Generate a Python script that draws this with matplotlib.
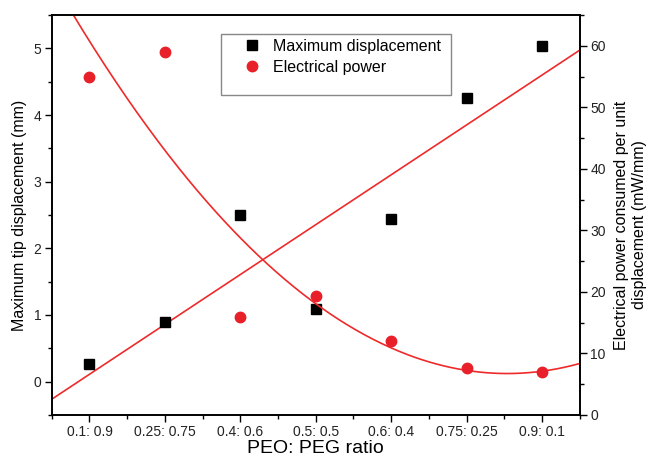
import matplotlib
matplotlib.use("Agg")
import matplotlib.pyplot as plt
import numpy as np
from matplotlib.patches import Rectangle
from matplotlib.ticker import MultipleLocator

plt.rcParams["font.family"] = ["Liberation Sans", "DejaVu Sans"]

ratios = ["0.1: 0.9", "0.25: 0.75", "0.4: 0.6", "0.5: 0.5", "0.6: 0.4", "0.75: 0.25", "0.9: 0.1"]
max_disp = [0.27, 0.90, 2.50, 1.085, 2.44, 4.25, 5.04]          # mm
elec_power = [54.9, 59.0, 16.0, 19.3, 12.1, 7.6, 7.0]          # mW/mm

RED = "#e8202a"
LINE_RED = "#ee2a2a"

x = np.arange(1, len(ratios) + 1)

fig = plt.figure(figsize=(6.47, 4.57), dpi=100)
ax = fig.add_axes([0.080, 0.092, 0.816, 0.875])
ax2 = ax.twinx()

# linear fit of displacement, quadratic fit of power
xs = np.linspace(0.5, 7.5, 300)
lin = np.polyfit(x, max_disp, 1)
quad = np.polyfit(x, elec_power, 2)

ax.plot(xs, np.polyval(lin, xs), color=LINE_RED, lw=1.2, zorder=2)
h1, = ax.plot(x, max_disp, "s", color="black", ms=6.7, zorder=3,
              label="Maximum displacement")
ax2.plot(xs, np.polyval(quad, xs), color=LINE_RED, lw=1.2, zorder=2)
h2, = ax2.plot(x, elec_power, "o", color=RED, ms=7.5, zorder=3,
               label="Electrical power")

ax.set_xlim(0.5, 7.5)
ax.set_ylim(-0.5, 5.5)
ax2.set_ylim(0, 65)

ax.set_xticks(x)
ax.set_xticklabels(ratios)
ax.xaxis.set_minor_locator(MultipleLocator(0.5))
ax.yaxis.set_major_locator(MultipleLocator(1))
ax.yaxis.set_minor_locator(MultipleLocator(0.5))
ax2.yaxis.set_major_locator(MultipleLocator(10))
ax2.yaxis.set_minor_locator(MultipleLocator(5))

for a in (ax, ax2):
    a.tick_params(which="major", direction="out", length=5, width=1, labelsize=10,
                  labelcolor="#222222", pad=2.5)
    a.tick_params(which="minor", direction="out", length=3, width=1)
    for s in a.spines.values():
        s.set_linewidth(1.2)

ax.set_xlabel("PEO: PEG ratio", fontsize=14)
ax.xaxis.set_label_coords(0.5, -0.063)
ax.set_ylabel("Maximum tip displacement (mm)", fontsize=11.5)
ax.yaxis.set_label_coords(-0.046, 0.5)
ax2.set_ylabel("Electrical power consumed per unit\ndisplacement (mW/mm)",
               fontsize=11.5, linespacing=1.3)
ax2.yaxis.set_label_coords(1.064, 0.475)

# legend box (Origin style, with extra room at the bottom)
ax2.add_patch(Rectangle((0.320, 0.80), 0.436, 0.1525, transform=ax2.transAxes,
                        facecolor="white", edgecolor="#888888", lw=1.0, zorder=4))
leg = ax2.legend(handles=[h1, h2], loc="upper left", bbox_to_anchor=(0.356, 0.940),
                 fontsize=11.5, frameon=False, borderpad=0, borderaxespad=0,
                 labelspacing=0.35, handletextpad=0.6, handlelength=1.5)
leg.set_zorder(5)

fig.savefig("out.png", dpi=100)
